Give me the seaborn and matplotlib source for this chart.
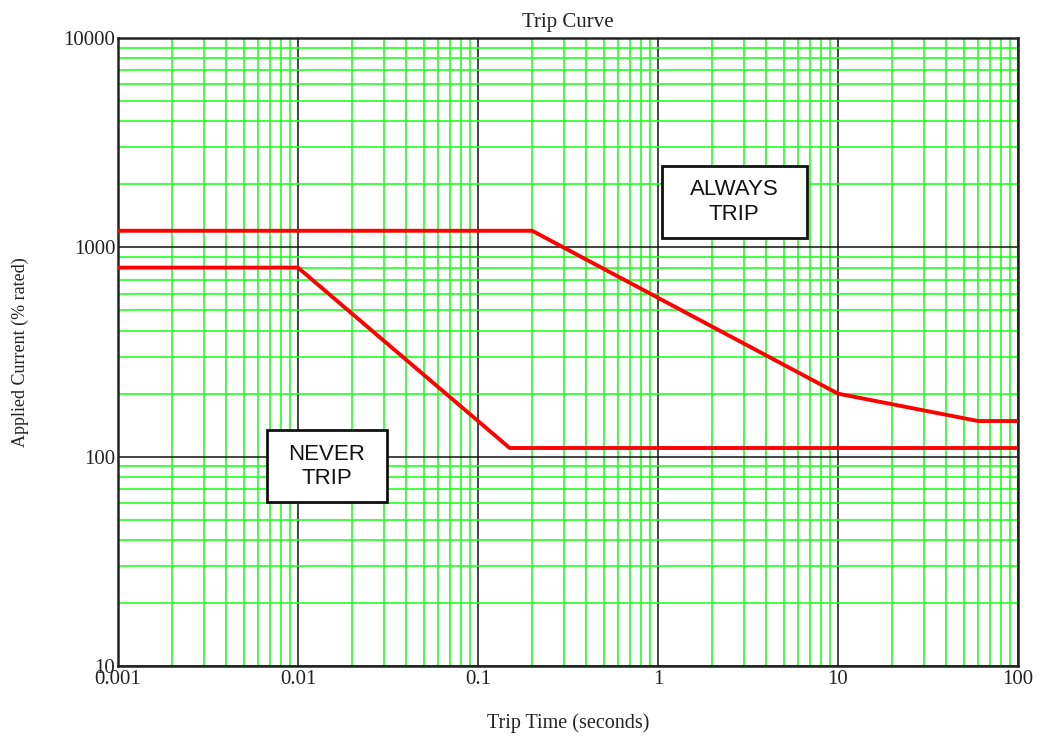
import matplotlib
matplotlib.use("Agg")
import matplotlib.pyplot as plt
from matplotlib.patches import Rectangle
from matplotlib.ticker import LogLocator, NullFormatter
import pandas as pd
import seaborn as sns

# trip curve data (time in seconds, current in % rated)
upper_time = [0.001, 0.2, 10, 60, 100]
upper_current = [1200, 1200, 200, 148, 148]
lower_time = [0.001, 0.01, 0.15, 100]
lower_current = [800, 800, 110, 110]

x_ticks = [0.001, 0.01, 0.1, 1, 10, 100]
x_labels = ["0.001", "0.01", "0.1", "1", "10", "100"]
y_ticks = [10, 100, 1000, 10000]
y_labels = ["10", "100", "1000", "10000"]

sns.set_style("white")
plt.rcParams["font.family"] = ["Liberation Serif", "DejaVu Serif"]

fig = plt.figure(figsize=(10.41, 7.36), dpi=100)
ax = fig.add_axes([118 / 1041, 1 - 666 / 736, 900 / 1041, 628 / 736])

df_up = pd.DataFrame({"t": upper_time, "i": upper_current})
df_lo = pd.DataFrame({"t": lower_time, "i": lower_current})
sns.lineplot(data=df_up, x="t", y="i", sort=False, estimator=None,
             color="#ff0000", lw=2.8, ax=ax, zorder=5)
sns.lineplot(data=df_lo, x="t", y="i", sort=False, estimator=None,
             color="#ff0000", lw=2.8, ax=ax, zorder=5)

ax.set_xscale("log")
ax.set_yscale("log")
ax.set_xlim(0.001, 100)
ax.set_ylim(10, 10000)

ax.set_xticks(x_ticks, x_labels)
ax.set_yticks(y_ticks, y_labels)
ax.xaxis.set_minor_locator(LogLocator(base=10, subs=range(2, 10), numticks=20))
ax.yaxis.set_minor_locator(LogLocator(base=10, subs=range(2, 10), numticks=20))
ax.xaxis.set_minor_formatter(NullFormatter())
ax.yaxis.set_minor_formatter(NullFormatter())
ax.tick_params(which="both", length=0, labelsize=15, colors="#222222")
ax.tick_params(axis="x", pad=3)
ax.tick_params(axis="y", pad=2)

# grid: green minors, black majors
ax.grid(which="minor", color="#22ff22", lw=1.2, zorder=1)
ax.grid(which="major", color="#111111", lw=1.1, zorder=2)
ax.set_axisbelow(True)

for s in ax.spines.values():
    s.set_color("#222222")
    s.set_linewidth(1.8)
    s.set_visible(True)

ax.set_title("Trip Curve", fontsize=15, pad=8, color="#222222")
ax.set_xlabel("Trip Time (seconds)", fontsize=14.5, labelpad=17, color="#222222")
ax.set_ylabel("Applied Current (% rated)", fontsize=13, labelpad=25, color="#222222")

# region boxes
boxes = [
    (0.604, 0.6815, 0.161, 0.1146, "ALWAYS\nTRIP"),
    (0.1656, 0.261, 0.1333, 0.1146, "NEVER\nTRIP"),
]
for x0, y0, w, h, txt in boxes:
    ax.add_patch(Rectangle((x0, y0), w, h, transform=ax.transAxes,
                           facecolor="white", edgecolor="#111111", lw=2, zorder=6))
    ax.text(x0 + w / 2, y0 + h / 2, txt, transform=ax.transAxes,
            ha="center", va="center", fontsize=16, linespacing=1.2,
            family=["Liberation Sans", "DejaVu Sans"], color="#111111", zorder=7)

fig.savefig("out.png", dpi=100)
